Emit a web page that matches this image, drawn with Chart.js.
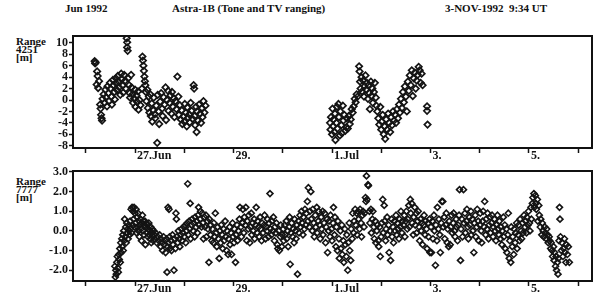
<!DOCTYPE html>
<html>
<head>
<meta charset="utf-8">
<script src="https://cdn.jsdelivr.net/npm/chart.js@4.4.0/dist/chart.umd.min.js"></script>
<style>
  body { margin: 0; background: #fff; width: 603px; height: 296px; overflow: hidden; position: relative;
         font-family: "Liberation Serif", serif; font-weight: bold; color: #111; }
  .hd { position: absolute; top: 2px; font-size: 11px; white-space: nowrap; }
  .yl { position: absolute; left: 16px; font-size: 11px; line-height: 8px; }
  .box { position: absolute; left: 72px; width: 521px; box-sizing: border-box; border: 2px solid #111; z-index: 5; }
  canvas { position: absolute; left: 0; }
</style>
</head>
<body>
<div class="hd" style="left:65px">Jun 1992</div>
<div class="hd" style="left:172px">Astra-1B (Tone and TV ranging)</div>
<div class="hd" style="left:445px">3-NOV-1992&nbsp; 9:34 UT</div>
<div class="yl" style="top:37px">Range<br>4251<br>[m]</div>
<div class="yl" style="top:177px">Range<br>7777<br>[m]</div>
<canvas id="top" width="603" height="166" style="top:0"></canvas>
<canvas id="bottom" width="603" height="138" style="top:158px"></canvas>
<div class="box" style="top:35px;height:114px"></div>
<div class="box" style="top:170px;height:112px"></div>
<script>
// time axis in days of June 1992 (1 Jul = 31)
const xTickDays = [26, 27, 28, 29, 30, 31, 32, 33, 34, 35, 36];
const xTickText = ['', '27.Jun', '', '29.', '', '1.Jul', '', '3.', '', '5.', ''];
const yTicks4251 = [-8, -6, -4, -2, 0, 2, 4, 6, 8, 10];
const yTicks7777 = [-2, -1, 0, 1, 2, 3];

// station 4251, first pass  [day, range m]
const pass1_4251 = [
  [26.18,6.8],[26.19,6.4],[26.20,6.6],[26.23,5.0],[26.24,4.2],[26.22,2.7],[26.25,2.1],[26.27,3.3],[26.31,-2.6],[26.32,-3.2],
  [26.33,-3.6],[26.29,-0.8],[26.30,-1.5],[26.34,0.2],[26.36,1.0],[26.38,-0.5],[26.40,1.8],[26.41,0.5],[26.43,-1.1],[26.44,2.4],
  [26.46,1.2],[26.47,-0.2],[26.49,3.0],[26.50,2.0],[26.52,0.6],[26.53,-0.8],[26.55,3.5],[26.56,2.6],[26.58,1.4],[26.59,0.1],
  [26.61,3.8],[26.62,2.9],[26.64,1.7],[26.65,4.2],[26.67,3.2],[26.68,2.2],[26.70,0.9],[26.72,4.6],[26.73,3.6],[26.75,2.5],
  [26.76,1.3],[26.78,4.4],[26.80,3.4],[26.81,2.0],[26.83,10.8],[26.84,10.1],[26.84,9.2],[26.85,8.6],[26.86,3.8],[26.88,2.6],
  [26.89,1.2],[26.90,0.4],[26.92,4.4],[26.93,2.2],[26.95,1.0],[26.96,-0.5],[26.98,0.3],[27.00,1.8],[27.01,-1.2],[27.03,0.8],
  [27.04,-0.3],[27.06,1.5],[27.07,-1.7],[27.09,0.0],[27.11,-0.9],[27.14,2.0],[27.15,7.6],[27.16,6.9],[27.17,6.0],[27.18,5.1],
  [27.19,4.1],[27.20,3.3],[27.21,2.6],[27.22,1.4],[27.23,-0.2],[27.25,1.8],[27.26,-1.4],[27.28,0.6],[27.29,-2.2],[27.31,1.0],
  [27.32,-2.8],[27.34,-0.6],[27.35,-3.8],[27.37,-1.8],[27.38,0.4],[27.40,-2.5],[27.41,-3.2],[27.43,-1.0],[27.45,-7.5],[27.46,0.9],
  [27.48,-2.0],[27.49,-4.2],[27.51,-0.3],[27.53,1.2],[27.55,-1.5],[27.56,-2.8],[27.58,0.5],[27.60,-0.8],[27.62,2.2],[27.63,-3.5],
  [27.65,0.0],[27.67,1.6],[27.68,-1.9],[27.70,-0.5],[27.72,0.8],[27.74,-2.4],[27.75,1.4],[27.77,-1.2],[27.79,0.3],[27.80,-3.0],
  [27.82,-0.2],[27.84,-1.6],[27.86,4.1],[27.88,0.6],[27.89,-2.6],[27.91,-0.9],[27.93,-3.4],[27.95,-1.8],[27.96,-4.2],[27.98,-2.9],
  [28.00,-3.8],[28.01,-0.7],[28.03,-2.2],[28.05,-4.6],[28.06,-1.3],[28.08,-3.1],[28.10,-2.5],[28.11,-3.9],[28.13,-0.5],[28.15,-1.9],
  [28.17,-3.3],[28.19,2.6],[28.20,2.0],[28.21,-2.8],[28.22,-4.4],[28.24,-1.2],[28.25,-5.6],[28.26,-2.0],[28.28,-3.6],[28.30,-0.8],
  [28.32,-2.4],[28.34,-4.0],[28.36,-1.4],[28.37,-3.0],[28.39,-0.2],[28.41,-2.2],[28.43,-1.0]
];

// station 4251, second pass
const pass2_4251 = [
  [30.96,-4.0],[30.97,-5.2],[30.98,-3.0],[31.00,-6.0],[31.01,-1.5],[31.02,-4.6],[31.03,-3.4],[31.05,-5.6],[31.06,-2.4],[31.07,-7.0],
  [31.09,-4.0],[31.10,-1.2],[31.11,-5.0],[31.13,-0.7],[31.14,-3.0],[31.16,-6.2],[31.17,-2.0],[31.19,-4.4],[31.20,-5.8],[31.22,-1.0],
  [31.23,-3.6],[31.25,-2.6],[31.27,-5.4],[31.29,-4.8],[31.30,-3.2],[31.32,-5.0],[31.34,-2.8],[31.36,-4.2],[31.38,-3.4],[31.40,-1.6],
  [31.42,-2.2],[31.44,-1.1],[31.46,0.2],[31.48,-0.4],[31.50,1.0],[31.52,0.6],[31.55,5.9],[31.56,5.0],[31.57,3.2],[31.58,2.0],
  [31.60,4.0],[31.61,1.5],[31.63,3.4],[31.65,0.6],[31.66,2.4],[31.68,4.3],[31.69,1.8],[31.71,3.0],[31.73,0.2],[31.74,2.6],
  [31.76,1.2],[31.77,-1.6],[31.79,3.2],[31.80,0.7],[31.82,2.0],[31.83,-0.5],[31.85,1.4],[31.87,3.0],[31.89,0.4],[31.90,-1.0],
  [31.92,-2.0],[31.94,-3.2],[31.96,-4.3],[31.98,-1.2],[32.00,-5.2],[32.01,-3.8],[32.03,-2.6],[32.05,-6.0],[32.07,-4.6],[32.08,-6.8],
  [32.10,-3.4],[32.12,-5.2],[32.14,-2.4],[32.16,-4.0],[32.18,-5.6],[32.20,-3.0],[32.22,-4.4],[32.24,-2.0],[32.26,-3.6],[32.28,-2.6],
  [32.30,-4.0],[32.32,-1.6],[32.34,-3.2],[32.36,-0.8],[32.38,-2.2],[32.40,0.2],[32.42,-1.4],[32.44,1.4],[32.46,-0.4],[32.48,2.4],
  [32.50,0.6],[32.52,-2.0],[32.54,3.2],[32.56,1.6],[32.58,4.3],[32.60,2.6],[32.62,5.2],[32.64,0.7],[32.66,3.8],[32.68,4.8],
  [32.70,2.0],[32.72,3.4],[32.74,4.4],[32.76,5.8],[32.78,5.2],[32.80,3.0],[32.82,4.6],[32.84,2.6],[32.93,-1.1],[32.93,-1.9],
  [32.94,-4.3]
];

// station 7777
const range7777 = [
  [26.59,-1.8],[26.60,-2.35],[26.61,-2.0],[26.62,-2.2],[26.63,-1.6],[26.64,-1.3],[26.65,-1.9],[26.66,-2.1],[26.67,-1.2],[26.68,-1.45],
  [26.69,-0.9],[26.70,-1.6],[26.71,-0.6],[26.72,-1.1],[26.73,-0.4],[26.74,-0.8],[26.75,-0.2],[26.76,-1.0],[26.77,0.0],[26.78,-0.5],
  [26.79,0.6],[26.80,-0.3],[26.81,0.2],[26.82,-0.6],[26.83,0.4],[26.84,-0.1],[26.85,0.1],[26.86,-0.4],[26.87,0.3],[26.88,0.0],
  [26.89,-0.2],[26.90,0.5],[26.91,0.1],[26.92,1.1],[26.93,-0.1],[26.94,1.2],[26.95,0.3],[26.96,1.0],[26.97,0.6],[26.98,1.2],
  [26.99,0.2],[27.00,0.9],[27.01,0.4],[27.02,1.1],[27.03,-0.1],[27.04,0.7],[27.05,0.2],[27.06,0.9],[27.07,0.0],[27.08,0.5],
  [27.09,-0.3],[27.10,0.3],[27.11,0.6],[27.12,0.1],[27.13,-0.5],[27.14,0.4],[27.15,0.8],[27.16,0.0],[27.17,0.5],[27.18,-0.2],
  [27.19,0.3],[27.20,0.5],[27.21,-0.7],[27.22,0.2],[27.23,0.4],[27.24,-0.1],[27.25,0.3],[27.26,-0.3],[27.27,0.1],[27.28,0.4],
  [27.29,-0.2],[27.30,0.0],[27.31,-0.4],[27.32,0.2],[27.33,-0.6],[27.34,-0.1],[27.35,0.1],[27.36,-0.3],[27.37,-0.5],[27.38,0.0],
  [27.39,-0.2],[27.40,-0.4],[27.42,-0.1],[27.44,-0.6],[27.46,-0.3],[27.48,-0.5],[27.50,-0.2],[27.52,-0.8],[27.53,-0.4],[27.55,-0.6],
  [27.56,-1.0],[27.58,-0.3],[27.59,-0.7],[27.61,-0.5],[27.62,-1.1],[27.64,-0.4],[27.65,-2.1],[27.66,-0.8],[27.67,1.2],[27.68,-0.6],
  [27.69,1.1],[27.70,-0.3],[27.71,-0.9],[27.73,-0.5],[27.74,-1.0],[27.76,-0.2],[27.77,-0.7],[27.79,-2.0],[27.80,-0.4],[27.82,-0.9],
  [27.83,0.9],[27.84,0.6],[27.85,-0.3],[27.87,-0.6],[27.88,0.0],[27.90,-0.4],[27.91,-0.8],[27.93,-0.2],[27.94,0.1],[27.96,-0.5],
  [27.97,-0.1],[27.99,0.2],[28.00,-0.3],[28.02,0.3],[28.03,-0.6],[28.05,0.0],[28.06,0.4],[28.07,2.4],[28.08,-0.2],[28.10,0.5],
  [28.11,0.1],[28.12,1.4],[28.13,-0.4],[28.15,0.3],[28.16,0.6],[28.18,0.0],[28.19,0.4],[28.21,-0.3],[28.22,0.7],[28.24,0.2],
  [28.25,0.5],[28.27,-0.1],[28.28,0.8],[28.29,1.2],[28.30,0.3],[28.32,0.6],[28.33,1.0],[28.35,0.2],[28.36,0.9],[28.38,0.4],
  [28.39,-0.4],[28.41,0.7],[28.42,0.2],[28.44,0.8],[28.45,-0.3],[28.47,0.5],[28.48,0.1],[28.50,-1.6],[28.51,0.6],[28.53,-0.2],
  [28.54,0.3],[28.56,-0.5],[28.57,0.1],[28.59,-0.6],[28.60,0.4],[28.62,-0.3],[28.63,0.9],[28.65,-0.1],[28.66,-0.8],[28.68,0.2],
  [28.69,-0.4],[28.71,-1.4],[28.72,0.0],[28.74,-0.6],[28.75,0.3],[28.77,-0.2],[28.78,-0.9],[28.80,0.1],[28.81,-0.5],[28.83,0.5],
  [28.84,-0.3],[28.86,-1.0],[28.87,0.0],[28.89,-1.2],[28.90,-0.4],[28.92,0.2],[28.93,-0.7],[28.95,-0.1],[28.96,-1.2],[28.98,0.4],
  [28.99,-0.3],[29.01,-0.6],[29.02,0.1],[29.04,-1.6],[29.05,-0.2],[29.07,0.3],[29.08,-0.5],[29.10,0.0],[29.12,0.6],[29.13,1.2],
  [29.15,0.2],[29.16,-0.3],[29.18,0.4],[29.19,1.1],[29.21,-0.1],[29.22,0.7],[29.24,0.3],[29.25,1.2],[29.27,-0.5],[29.28,0.5],
  [29.30,0.1],[29.31,0.8],[29.33,-0.6],[29.34,0.2],[29.36,0.9],[29.37,-0.2],[29.39,0.4],[29.40,0.0],[29.42,0.6],[29.43,-0.4],
  [29.45,0.3],[29.46,1.2],[29.48,-0.1],[29.49,0.5],[29.51,0.2],[29.52,-0.3],[29.54,0.7],[29.55,0.1],[29.57,-0.5],[29.58,0.4],
  [29.60,-0.1],[29.62,0.3],[29.63,0.8],[29.65,-0.4],[29.66,0.2],[29.68,0.0],[29.69,0.6],[29.71,-0.3],[29.72,0.4],[29.74,1.9],
  [29.75,0.1],[29.77,-0.2],[29.78,0.5],[29.80,0.0],[29.81,0.7],[29.83,-0.5],[29.84,0.2],[29.86,-0.1],[29.87,0.4],[29.89,-0.7],
  [29.90,-0.9],[29.92,0.0],[29.93,-1.0],[29.95,-0.3],[29.96,0.3],[29.98,-0.8],[29.99,-0.2],[30.01,0.1],[30.02,-0.5],[30.04,0.3],
  [30.05,-0.2],[30.07,0.5],[30.08,-0.4],[30.10,0.0],[30.11,-0.8],[30.13,0.2],[30.14,0.7],[30.15,-1.7],[30.17,-0.1],[30.18,0.4],
  [30.20,-0.3],[30.21,0.1],[30.23,-0.6],[30.24,0.6],[30.26,0.0],[30.27,-0.4],[30.29,0.3],[30.30,-2.2],[30.32,0.5],[30.33,-0.1],
  [30.35,0.8],[30.36,0.2],[30.38,1.0],[30.39,0.4],[30.41,-0.2],[30.42,0.7],[30.44,0.1],[30.45,1.1],[30.47,0.3],[30.48,0.9],
  [30.50,1.5],[30.51,0.5],[30.52,2.2],[30.54,0.2],[30.55,1.0],[30.57,2.0],[30.58,0.6],[30.60,0.0],[30.61,1.1],[30.63,0.4],
  [30.64,-0.3],[30.66,0.8],[30.67,0.2],[30.69,1.2],[30.70,-0.1],[30.72,0.5],[30.73,1.0],[30.75,0.3],[30.76,-0.4],[30.78,0.7],
  [30.79,0.1],[30.81,1.0],[30.82,-0.2],[30.84,0.4],[30.85,0.9],[30.87,-0.6],[30.88,0.2],[30.90,0.6],[30.91,-1.1],[30.93,0.0],
  [30.94,0.5],[30.96,-0.3],[30.97,0.8],[30.99,0.1],[31.00,-0.5],[31.02,0.4],[31.03,1.2],[31.05,-0.2],[31.06,0.7],[31.08,-0.8],
  [31.09,0.2],[31.11,-1.0],[31.12,0.5],[31.14,-0.4],[31.15,-1.4],[31.17,0.0],[31.18,-0.9],[31.20,0.3],[31.21,-1.2],[31.23,-0.5],
  [31.24,-1.6],[31.26,0.1],[31.27,-0.7],[31.29,-1.3],[31.30,-0.2],[31.32,-2.0],[31.33,-0.6],[31.35,0.4],[31.36,-1.0],[31.38,-1.5],
  [31.39,0.1],[31.41,-0.4],[31.42,0.9],[31.44,-0.1],[31.45,0.5],[31.47,1.1],[31.48,0.3],[31.50,0.9],[31.51,-0.2],[31.53,1.0],
  [31.54,0.6],[31.56,0.1],[31.57,1.1],[31.59,0.4],[31.60,-0.3],[31.62,0.8],[31.63,1.0],[31.65,0.2],[31.66,0.9],[31.68,1.7],
  [31.69,1.5],[31.70,2.8],[31.71,1.6],[31.73,2.35],[31.74,2.3],[31.76,1.0],[31.77,0.4],[31.79,1.1],[31.80,-0.1],[31.82,0.6],
  [31.83,1.0],[31.85,0.2],[31.86,-0.4],[31.88,0.5],[31.89,-0.6],[31.91,0.0],[31.92,0.3],[31.94,-0.5],[31.95,-0.8],[31.97,0.2],
  [31.98,-1.3],[32.00,-0.3],[32.01,0.4],[32.03,1.6],[32.04,-0.1],[32.06,1.3],[32.07,0.5],[32.09,-0.5],[32.10,0.1],[32.12,0.7],
  [32.13,-0.2],[32.15,0.3],[32.16,-1.1],[32.18,0.0],[32.19,-1.5],[32.21,0.6],[32.22,-0.3],[32.24,0.2],[32.25,-0.6],[32.27,0.5],
  [32.28,0.0],[32.30,0.8],[32.31,-0.2],[32.33,0.4],[32.34,0.1],[32.36,-0.4],[32.37,0.6],[32.39,0.2],[32.40,1.0],[32.42,-0.1],
  [32.43,0.5],[32.45,0.3],[32.47,0.8],[32.48,-0.3],[32.50,0.5],[32.51,1.0],[32.53,0.1],[32.54,0.6],[32.56,1.3],[32.57,0.2],
  [32.59,1.6],[32.60,0.9],[32.62,1.4],[32.63,0.4],[32.65,-0.2],[32.66,0.7],[32.68,1.2],[32.69,0.3],[32.71,0.9],[32.72,-0.1],
  [32.74,0.5],[32.75,1.0],[32.77,0.2],[32.78,-0.5],[32.80,0.6],[32.81,0.0],[32.83,0.4],[32.84,-0.7],[32.86,0.3],[32.87,0.8],
  [32.89,-0.2],[32.90,0.5],[32.92,0.1],[32.93,-0.9],[32.95,0.4],[32.96,-0.3],[32.98,0.6],[32.99,-1.1],[33.01,0.2],[33.02,-1.1],
  [33.04,0.5],[33.05,-0.4],[33.07,0.8],[33.08,0.0],[33.10,-1.75],[33.11,0.3],[33.13,-0.5],[33.14,1.2],[33.16,0.1],[33.17,0.6],
  [33.19,-0.2],[33.20,-1.1],[33.22,0.4],[33.23,1.5],[33.25,1.5],[33.26,0.2],[33.28,0.7],[33.29,-0.4],[33.31,0.3],[33.32,0.9],
  [33.34,-0.6],[33.35,0.1],[33.37,-0.8],[33.38,0.5],[33.40,-0.7],[33.41,0.2],[33.43,0.8],[33.44,-0.1],[33.46,0.4],[33.47,0.9],
  [33.49,0.0],[33.50,-0.3],[33.52,0.6],[33.53,0.2],[33.55,-0.5],[33.56,0.3],[33.58,0.8],[33.59,2.1],[33.61,-1.5],[33.62,0.1],
  [33.64,0.6],[33.65,-0.3],[33.67,2.1],[33.68,0.4],[33.70,0.9],[33.71,-0.1],[33.73,0.5],[33.74,1.1],[33.76,0.2],[33.77,-0.4],
  [33.79,0.7],[33.80,0.3],[33.82,1.0],[33.83,-0.2],[33.85,0.6],[33.86,0.0],[33.88,-1.1],[33.89,0.4],[33.91,0.8],[33.92,-0.3],
  [33.94,0.2],[33.95,1.1],[33.97,0.5],[33.98,-0.5],[34.00,0.3],[34.01,0.9],[34.03,0.0],[34.04,-0.6],[34.06,0.5],[34.07,1.0],
  [34.09,0.2],[34.10,1.5],[34.12,-0.2],[34.13,0.6],[34.15,0.1],[34.16,0.9],[34.18,-0.4],[34.19,0.3],[34.21,0.7],[34.22,-0.1],
  [34.24,0.4],[34.25,0.8],[34.27,-0.3],[34.28,0.2],[34.30,0.6],[34.31,0.0],[34.33,-0.5],[34.34,0.3],[34.36,0.8],[34.37,0.1],
  [34.39,-0.2],[34.40,0.5],[34.42,-0.4],[34.43,0.2],[34.45,-0.7],[34.46,0.0],[34.48,0.7],[34.49,-0.3],[34.51,0.3],[34.52,-0.9],
  [34.54,0.1],[34.55,-1.1],[34.57,-0.2],[34.58,0.9],[34.60,-1.4],[34.61,-0.5],[34.63,-1.6],[34.64,0.2],[34.66,-0.8],[34.67,-0.3],
  [34.69,-1.2],[34.70,0.1],[34.72,-0.6],[34.73,-0.1],[34.75,0.4],[34.76,-0.9],[34.78,-0.2],[34.79,0.3],[34.81,-0.5],[34.82,0.6],
  [34.84,0.0],[34.85,-0.4],[34.87,0.4],[34.88,-0.1],[34.90,0.8],[34.92,0.2],[34.93,0.5],[34.95,-0.1],[34.96,0.7],[34.98,0.3],
  [34.99,1.0],[35.01,0.4],[35.02,0.0],[35.04,1.2],[35.05,0.6],[35.07,1.4],[35.08,1.7],[35.10,1.9],[35.11,1.2],[35.13,1.8],
  [35.14,1.4],[35.15,1.1],[35.17,1.6],[35.18,0.5],[35.20,1.3],[35.21,0.8],[35.23,0.2],[35.24,0.6],[35.26,-0.2],[35.27,0.4],
  [35.29,0.0],[35.30,-0.3],[35.32,0.2],[35.33,-0.1],[35.35,-0.4],[35.36,0.1],[35.38,-0.2],[35.39,-0.6],[35.41,-0.3],[35.42,-0.5],
  [35.44,-0.9],[35.45,-0.6],[35.47,-1.0],[35.48,-1.3],[35.50,-0.8],[35.51,-1.5],[35.52,-1.1],[35.54,-1.8],[35.55,-1.3],[35.56,-2.0],
  [35.58,-1.6],[35.59,-2.2],[35.60,-1.4],[35.61,-0.5],[35.62,1.2],[35.63,0.6],[35.64,-0.3],[35.66,-1.0],[35.67,-0.6],[35.69,-1.3],
  [35.70,-0.9],[35.72,-0.4],[35.73,-1.1],[35.75,-1.6],[35.76,-0.7],[35.78,-1.2],[35.80,-0.8],[35.82,-1.6]
];

const ink = '#141414';
const tickFont = { family: '"Liberation Serif", serif', size: 12, weight: 'bold' };

function dots(data, r, w) {
  return {
    data: data,
    pointStyle: 'rectRot',
    pointRadius: r,
    pointBorderWidth: w,
    pointBorderColor: ink,
    pointBackgroundColor: 'rgba(255,255,255,0)',
    showLine: false
  };
}

function panel(id, datasets, yMin, yMax, yTicks, yFmt, areaTop, axisH) {
  new Chart(document.getElementById(id), {
    type: 'scatter',
    data: { datasets: datasets },
    options: {
      responsive: false,
      animation: false,
      devicePixelRatio: 1,
      layout: { padding: { left: 0, right: 11, top: areaTop, bottom: 0 } },
      plugins: { legend: { display: false }, tooltip: { enabled: false } },
      scales: {
        x: {
          type: 'linear', min: 25.74, max: 36.28,
          afterBuildTicks: s => { s.ticks = xTickDays.map(v => ({ value: v })); },
          afterFit: s => { s.height = axisH; },
          ticks: {
            autoSkip: false, maxRotation: 0, align: 'start', padding: -4, labelOffset: 2,
            color: ink, font: tickFont,
            callback: v => xTickText[xTickDays.indexOf(v)]
          },
          grid: { drawOnChartArea: false, drawTicks: true, tickLength: 5, tickWidth: 1.5, tickColor: ink },
          border: { display: false }
        },
        y: {
          type: 'linear', min: yMin, max: yMax,
          afterBuildTicks: s => { s.ticks = yTicks.map(v => ({ value: v })); },
          afterFit: s => { s.width = 73; },
          ticks: { autoSkip: false, padding: 1, color: ink, font: tickFont, callback: yFmt },
          grid: { drawOnChartArea: false, drawTicks: true, tickLength: 4, tickWidth: 1.5, tickColor: ink },
          border: { display: false }
        }
      }
    }
  });
}

panel('top', [dots(pass1_4251, 3.2, 1.7), dots(pass2_4251, 3.2, 1.7)],
      -8.4, 11.2, yTicks4251, v => String(v), 36, 18);
panel('bottom', [dots(range7777, 3, 1.6)],
      -2.55, 3.05, yTicks7777, v => v.toFixed(1), 13, 15);
</script>
</body>
</html>
